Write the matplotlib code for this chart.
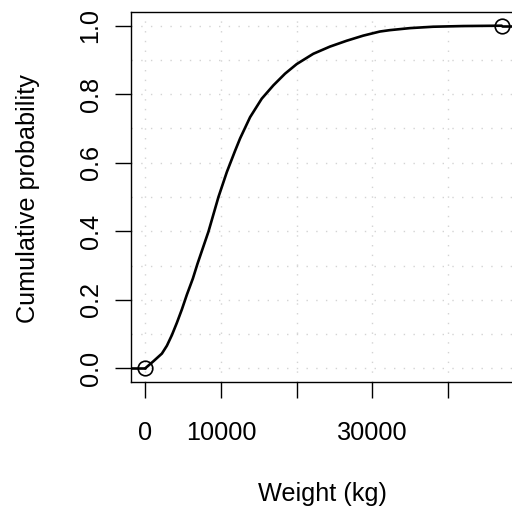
import matplotlib
matplotlib.use("Agg")
import matplotlib.pyplot as plt
import numpy as np

plt.rcParams['font.family'] = ['Liberation Sans', 'DejaVu Sans']

# Curve
weight = [0, 1100, 2200, 2860, 3520, 4180, 4840, 5500, 6290, 6900, 8350, 9670, 10780,
          11870, 12530, 13850, 15390, 16930, 18470, 20010, 22200, 24400, 26600, 28800,
          31000, 32300, 35000, 38030, 42000, 47100]
cumprob = [0, 0.021, 0.043, 0.066, 0.097, 0.133, 0.172, 0.215, 0.262, 0.305, 0.399, 0.50,
           0.573, 0.635, 0.671, 0.733, 0.787, 0.826, 0.86, 0.888, 0.918, 0.939, 0.956,
           0.971, 0.983, 0.987, 0.993, 0.997, 0.999, 1.0]

x_ticks = [0, 10000, 20000, 30000, 40000]
x_ticklabels = ['0', '10000', '', '30000', '']
y_ticks = [0.0, 0.2, 0.4, 0.6, 0.8, 1.0]
y_ticklabels = ['0.0', '0.2', '0.4', '0.6', '0.8', '1.0']
y_grid = [0.0, 0.1, 0.2, 0.3, 0.4, 0.5, 0.6, 0.7, 0.8, 0.9, 1.0]

W, H = 512, 508
FS = 18.2
fig = plt.figure(figsize=(W / 100, H / 100), dpi=100)
ax = fig.add_axes([131 / W, (H - 382) / H, (516 - 131) / W, (382 - 12) / H])

xmin, xmax = min(weight), max(weight)
xr = xmax - xmin
ax.set_xlim(xmin - 0.04 * xr, xmax + 0.04 * xr)
ax.set_ylim(-0.04, 1.04)

grid_kw = dict(color='#D3D3D3', lw=1.0, linestyle=(0, (1, 6)), zorder=1)
for gx in x_ticks:
    ax.axvline(gx, **grid_kw)
for gy in y_grid:
    ax.axhline(gy, **grid_kw)

line_kw = dict(color='black', lw=1.9, zorder=3, solid_joinstyle='round', solid_capstyle='round')
ax.plot(weight, cumprob, **line_kw)
ax.plot([xmin - xr, xmin], [cumprob[0], cumprob[0]], **line_kw)
ax.plot([xmax, xmax + xr], [cumprob[-1], cumprob[-1]], **line_kw)
ax.plot([weight[0], weight[-1]], [cumprob[0], cumprob[-1]], linestyle='none',
        marker='o', markersize=10.5, markerfacecolor='none', markeredgecolor='black',
        markeredgewidth=1.2, zorder=4, clip_on=False)

ax.set_xticks(x_ticks)
ax.set_xticklabels(x_ticklabels)
ax.set_yticks(y_ticks)
ax.set_yticklabels(y_ticklabels, rotation=90, va='center')
ax.tick_params(axis='both', length=11.5, width=1.0, labelsize=FS, color='black')
ax.tick_params(axis='x', pad=16.5)
ax.tick_params(axis='y', pad=9)
for s in ax.spines.values():
    s.set_linewidth(1.0)

fig.text(28 / W, 1 - 199 / H, 'Cumulative probability', rotation=90,
         ha='center', va='center', fontsize=FS)
fig.text(323 / W, 1 - 494 / H, 'Weight (kg)', ha='center', va='center', fontsize=FS)

fig.savefig('out.png', dpi=100)
